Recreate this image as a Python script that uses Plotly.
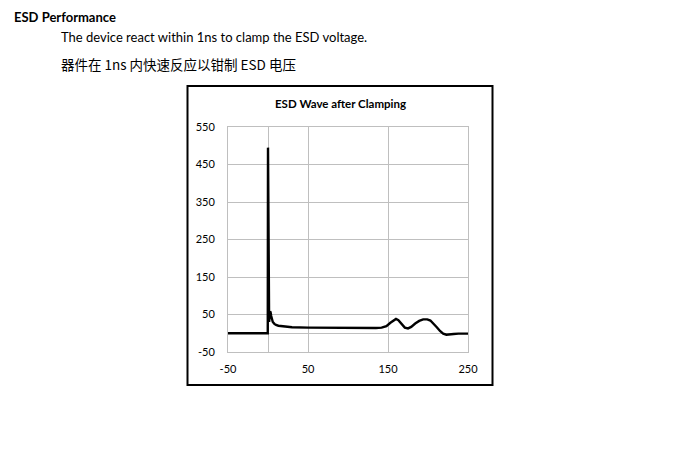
import plotly.graph_objects as go

# Data (time in ns, voltage in V)
time_ns = [-50, -0.3, 0, 0.4, 0.9, 1.4, 2.0, 2.6, 3.2, 4.0, 5.0, 6.0, 8.0, 10, 13, 16, 20, 30, 50, 80,
           100, 120, 135, 142, 148, 153, 157, 160, 163, 167, 171, 175, 179, 184, 189, 194, 199, 203,
           207, 211, 215, 219, 223, 227, 232, 238, 244, 250]
voltage = [0, 0, 495, 220, 35, 30, 45, 58, 56, 46, 37, 30, 25, 22, 20, 19, 18, 16, 15, 14,
           14, 14, 14, 15, 19, 28, 35, 38, 35, 24, 15, 13, 17, 26, 33, 37, 37, 34,
           26, 16, 6, -1, -4, -4, -2, -1, -1, -1]

x_ticks = [-50, 50, 150, 250]
x_tick_labels = ["-50", "50", "150", "250"]
y_ticks = [-50, 50, 150, 250, 350, 450, 550]
y_tick_labels = ["-50", "50", "150", "250", "350", "450", "550"]

W, H = 692, 466
OFF = 8  # page body margin
FONT = "Lato, 'Noto Sans', sans-serif"
CJK = "'Noto Sans CJK SC', sans-serif"

def px(x):
    return (x - OFF) / W

def py(y):
    return 1 - (y - OFF) / H

fig = go.Figure()
fig.add_trace(go.Scatter(x=time_ns, y=voltage, mode="lines",
                         line=dict(color="black", width=2.4), showlegend=False,
                         hoverinfo="skip"))

grid = "#bfbfbf"
fig.update_layout(
    width=W, height=H, margin=dict(l=0, r=0, t=0, b=0, pad=0, autoexpand=False),
    paper_bgcolor="white", plot_bgcolor="white",
    font=dict(family=FONT, size=11, color="black"),
    xaxis=dict(domain=[px(228), px(468)], range=[-50, 250], tickmode="array",
               tickvals=x_ticks, ticktext=x_tick_labels,
               showgrid=True, gridcolor=grid, gridwidth=1,
               zeroline=True, zerolinecolor=grid, zerolinewidth=1,
               showline=True, linecolor=grid, linewidth=1, mirror=True,
               ticks="", ticklabelstandoff=7, fixedrange=True, automargin=False,
               tickfont=dict(family=FONT, size=11)),
    yaxis=dict(domain=[py(352), py(127)], range=[-50, 550], tickmode="array",
               tickvals=y_ticks, ticktext=y_tick_labels,
               showgrid=True, gridcolor=grid, gridwidth=1,
               zeroline=True, zerolinecolor=grid, zerolinewidth=1,
               showline=True, linecolor=grid, linewidth=1, mirror=True,
               ticks="", ticklabelstandoff=10, fixedrange=True, automargin=False,
               tickfont=dict(family=FONT, size=11)),
    shapes=[dict(type="rect", xref="paper", yref="paper",
                 x0=px(187.5), x1=px(492.5), y0=py(385), y1=py(86),
                 line=dict(color="black", width=2), fillcolor="rgba(0,0,0,0)")],
    annotations=[
        dict(text="<b>ESD Performance</b>", xref="paper", yref="paper",
             x=px(12), y=py(17), xanchor="left", yanchor="middle", showarrow=False,
             font=dict(family=FONT, size=13, color="black")),
        dict(text="The device react within 1ns to clamp the ESD voltage.", xref="paper", yref="paper",
             x=px(59), y=py(37), xanchor="left", yanchor="middle", showarrow=False,
             font=dict(family=FONT, size=13, color="black")),
        dict(text="器件在 1ns 内快速反应以钳制 ESD 电压", xref="paper", yref="paper",
             x=px(59), y=py(64), xanchor="left", yanchor="middle", showarrow=False,
             font=dict(family=CJK, size=13.5, color="black")),
        dict(text="<b>ESD Wave after Clamping</b>", xref="paper", yref="paper",
             x=px(340), y=py(103), xanchor="center", yanchor="middle", showarrow=False,
             font=dict(family=FONT, size=11.5, color="black")),
    ],
)

fig.write_html("out.html")
